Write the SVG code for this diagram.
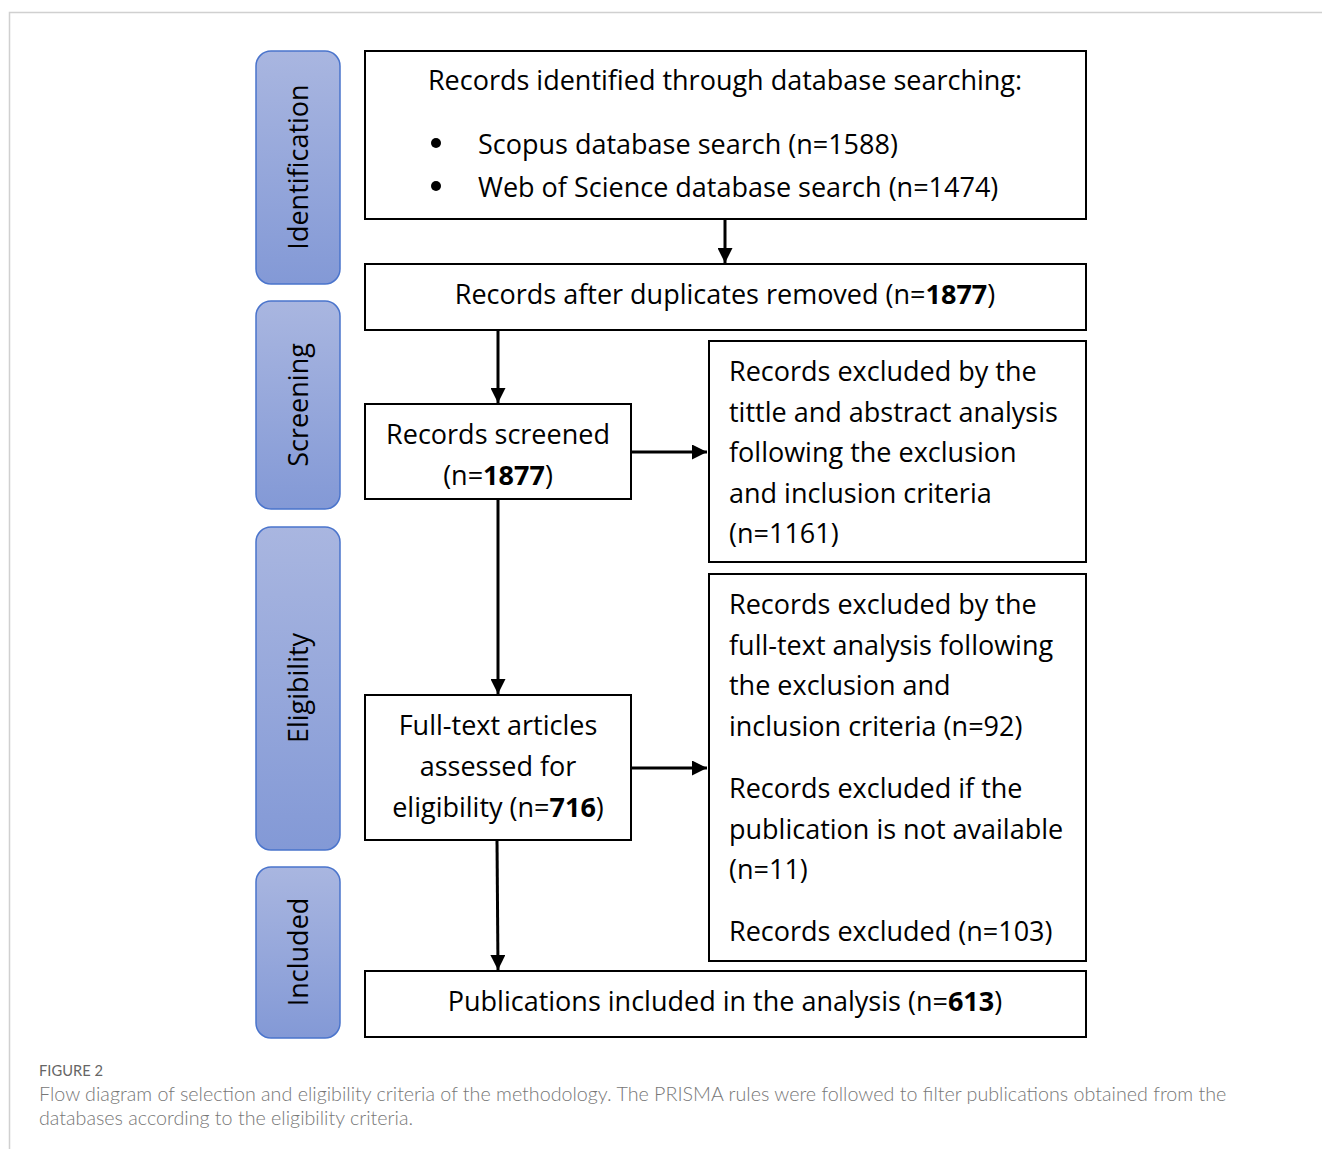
<svg xmlns="http://www.w3.org/2000/svg" width="1322" height="1149" viewBox="0 0 1322 1149">
<defs>
<linearGradient id="stage" x1="0" y1="0" x2="0" y2="1">
<stop offset="0" stop-color="#a9b6e0"/>
<stop offset="1" stop-color="#8399d6"/>
</linearGradient>
<marker id="arr" viewBox="0 0 10 10" refX="10" refY="5" markerWidth="5" markerHeight="5" markerUnits="strokeWidth" orient="auto">
<path d="M0,0 L10,5 L0,10 z" fill="#000"/>
</marker>
</defs>
<style>
.frame{fill:none;stroke:#d0d0d0;stroke-width:1.5}
.stage{fill:url(#stage);stroke:#4a74cc;stroke-width:1.5}
.box{fill:#fff;stroke:#000;stroke-width:2}
.t{font-family:"Open Sans","Noto Sans",sans-serif;font-size:27px;fill:#000}
.c{text-anchor:middle}
.v{font-family:"Open Sans","Noto Sans",sans-serif;font-size:27px;fill:#000;text-anchor:middle}
.conn{stroke:#000;stroke-width:3;fill:none;marker-end:url(#arr)}
.fig{font-family:Lato,"Open Sans",sans-serif;font-size:14.7px;fill:#666}
.cap{font-family:Lato,"Open Sans",sans-serif;font-size:19.7px;fill:#777;font-weight:300}
</style>
<rect width="1322" height="1149" fill="#fff"/>
<path class="frame" d="M9.5,1149 V12.5 H1322"/>

<g id="stage-identification"><rect class="stage" x="256" y="51" width="84" height="233" rx="15"/><text class="v" transform="translate(308,167) rotate(-90)">Identification</text></g>
<g id="stage-screening"><rect class="stage" x="256" y="301" width="84" height="208" rx="15"/><text class="v" transform="translate(308,405) rotate(-90)">Screening</text></g>
<g id="stage-eligibility"><rect class="stage" x="256" y="527" width="84" height="323" rx="15"/><text class="v" transform="translate(308,688) rotate(-90)">Eligibility</text></g>
<g id="stage-included"><rect class="stage" x="256" y="867" width="84" height="171" rx="15"/><text class="v" transform="translate(308,952) rotate(-90)">Included</text></g>

<g id="identified"><rect class="box" x="365" y="51" width="721" height="168"/>
<text class="t c" x="725" y="90">Records identified through database searching:</text>
<circle cx="436" cy="143" r="5"/><circle cx="436" cy="186" r="5"/>
<text class="t" x="478" y="154">Scopus database search (n=1588)</text>
<text class="t" x="478" y="197">Web of Science database search (n=1474)</text></g>

<g id="deduplicated"><rect class="box" x="365" y="264" width="721" height="66"/>
<text class="t c" x="725" y="304">Records after duplicates removed (n=<tspan font-weight="bold">1877</tspan>)</text></g>

<g id="screened"><rect class="box" x="365" y="404" width="266" height="95"/>
<text class="t c" x="498" y="444">Records screened</text>
<text class="t c" x="498" y="485">(n=<tspan font-weight="bold">1877</tspan>)</text></g>

<g id="excluded-screening"><rect class="box" x="709" y="341" width="377" height="221"/>
<text class="t" x="729" y="381">Records excluded by the</text>
<text class="t" x="729" y="422">tittle and abstract analysis</text>
<text class="t" x="729" y="462">following the exclusion</text>
<text class="t" x="729" y="503">and inclusion criteria</text>
<text class="t" x="729" y="543">(n=1161)</text></g>

<g id="fulltext"><rect class="box" x="365" y="695" width="266" height="145"/>
<text class="t c" x="498" y="735">Full-text articles</text>
<text class="t c" x="498" y="776">assessed for</text>
<text class="t c" x="498" y="817">eligibility (n=<tspan font-weight="bold">716</tspan>)</text></g>

<g id="excluded-eligibility"><rect class="box" x="709" y="574" width="377" height="387"/>
<text class="t" x="729" y="614">Records excluded by the</text>
<text class="t" x="729" y="655">full-text analysis following</text>
<text class="t" x="729" y="695">the exclusion and</text>
<text class="t" x="729" y="736">inclusion criteria (n=92)</text>
<text class="t" x="729" y="798">Records excluded if the</text>
<text class="t" x="729" y="839">publication is not available</text>
<text class="t" x="729" y="879">(n=11)</text>
<text class="t" x="729" y="941">Records excluded (n=103)</text></g>

<g id="included"><rect class="box" x="365" y="971" width="721" height="66"/>
<text class="t c" x="725" y="1011">Publications included in the analysis (n=<tspan font-weight="bold">613</tspan>)</text></g>

<g id="connectors">
<path class="conn" d="M725,219 V263"/>
<path class="conn" d="M498,330 V403"/>
<path class="conn" d="M631,452 H707"/>
<path class="conn" d="M498,499 V694"/>
<path class="conn" d="M631,768 H707"/>
<path class="conn" d="M497,840 L498,970"/>
</g>

<text class="fig" x="39" y="1076">FIGURE 2</text>
<text class="cap" x="39" y="1101">Flow diagram of selection and eligibility criteria of the methodology. The PRISMA rules were followed to filter publications obtained from the</text>
<text class="cap" x="39" y="1125">databases according to the eligibility criteria.</text>
</svg>
